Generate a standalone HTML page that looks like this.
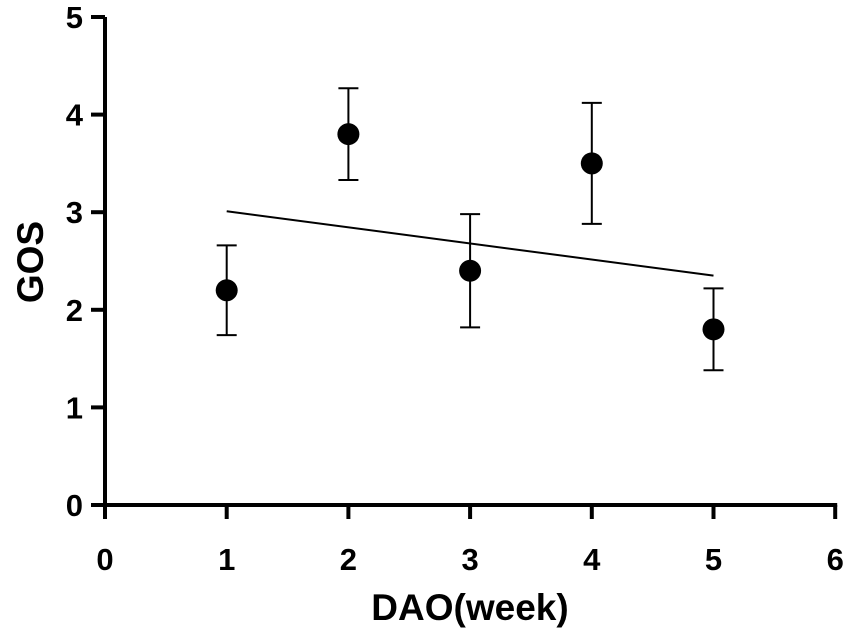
<!DOCTYPE html>
<html><head><meta charset="utf-8"><style>
body{margin:0;background:#fff}
svg text{font-family:"Liberation Sans",Arial,sans-serif;font-weight:bold;fill:#000}
</style></head><body>
<svg id="chart" width="851" height="638" xmlns="http://www.w3.org/2000/svg">
<g id="axes"></g>
<g id="marks"></g>
<text x="470" y="620" font-size="37" text-anchor="middle">DAO(week)</text>
<text transform="translate(43,262) rotate(-90)" font-size="37" text-anchor="middle">GOS</text>
</svg>
<script>
const xs=[1,2,3,4,5];
const means=[2.2,3.8,2.4,3.5,1.8];
const errs=[0.46,0.47,0.58,0.62,0.42];
const xTicks=[0,1,2,3,4,5,6];
const yTicks=[0,1,2,3,4,5];
const lineX=[1,5];
const lineY=[3.01,2.35];
const X=v=>105+v*121.7, Y=v=>505-v*97.6;
const NS="http://www.w3.org/2000/svg";
function mk(p,t,a){const e=document.createElementNS(NS,t);for(const k in a)e.setAttribute(k,a[k]);p.appendChild(e);return e;}
const ax=document.getElementById('axes'), mg=document.getElementById('marks');
let e=mk(ax,'line',{x1:X(0),y1:Y(0),x2:X(6)+2,y2:Y(0),stroke:'#000','stroke-width':4});


e=mk(ax,'line',{x1:X(0),y1:Y(0)+2,x2:X(0),y2:Y(5),stroke:'#000','stroke-width':4});


xTicks.forEach(t=>{
 let l=mk(ax,'line',{x1:X(t),y1:Y(0),x2:X(t),y2:Y(0)+14,stroke:'#000','stroke-width':4});
 
 
 let tx=mk(ax,'text',{x:X(t),y:Y(0)+65,'font-size':31,'text-anchor':'middle'});tx.textContent=t;
 
 
});
yTicks.forEach(t=>{
 let l=mk(ax,'line',{x1:X(0)-14,y1:Y(t),x2:X(0),y2:Y(t),stroke:'#000','stroke-width':4});
 
 
 let tx=mk(ax,'text',{x:X(0)-22,y:Y(t)+11,'font-size':31,'text-anchor':'end'});tx.textContent=t;
 
 
});
let rl=mk(mg,'line',{x1:X(lineX[0]),y1:Y(lineY[0]),x2:X(lineX[1]),y2:Y(lineY[1]),stroke:'#000','stroke-width':2});


xs.forEach((x,i)=>{
 const cx=X(x),hi=Y(means[i]+errs[i]),lo=Y(means[i]-errs[i]);
 let p=mk(mg,'path',{d:`M${cx},${hi}V${lo}M${cx-10},${hi}H${cx+10}M${cx-10},${lo}H${cx+10}`,stroke:'#000','stroke-width':2,fill:'none'});
 
 
 let c=mk(mg,'circle',{cx:cx,cy:Y(means[i]),r:11,fill:'#000'});
 
 
});
</script>
</body></html>
